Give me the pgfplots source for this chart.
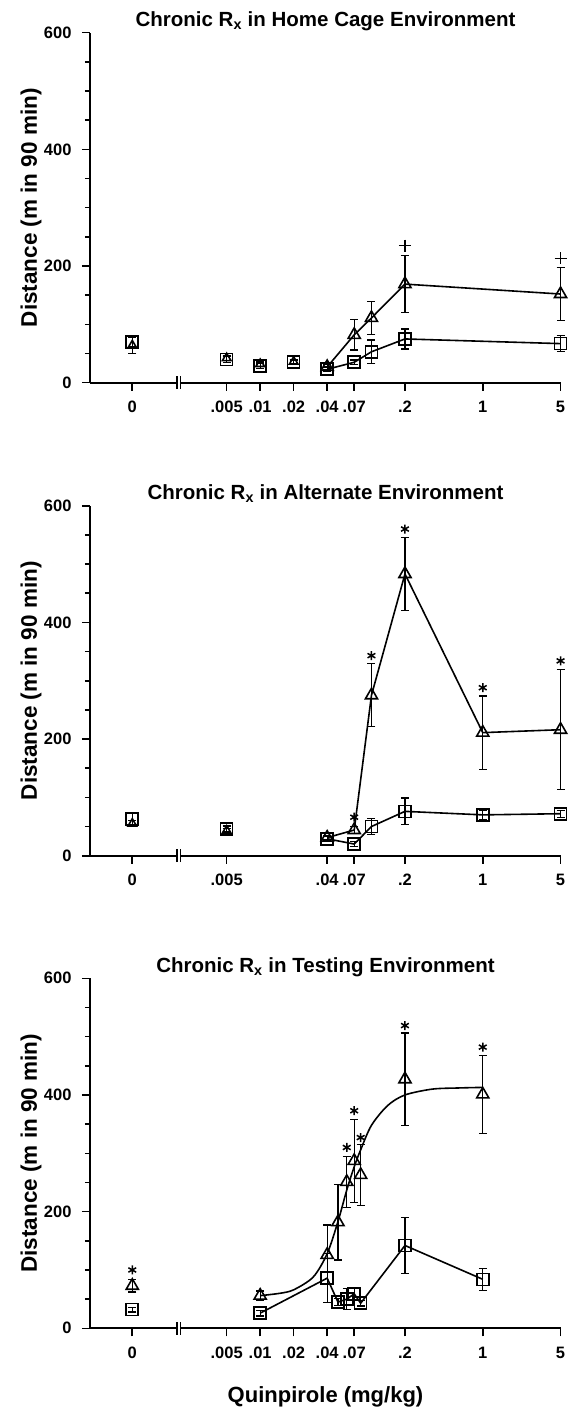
\documentclass[border=0pt]{standalone}
\usepackage{fontspec}
\setmainfont{Liberation Sans}
\usepackage{pgfplots}
\pgfplotsset{compat=1.18}

% x is log10(dose); zero dose sits at -3.149, left of the axis break at -2.730
\pgfplotsset{
  scale only axis, width=471pt, height=350pt,
  xmin=-3.529, xmax=0.703, ymin=0, ymax=600,
  axis lines=left, axis line style={-, line width=2.2pt},
  tick align=outside, major tick length=8pt, minor tick length=5pt,
  tick style={line width=1.6pt, black},
  ytick={0,200,400,600}, yticklabels={0,200,400,600}, minor y tick num=3,
  ticklabel style={font=\bfseries\fontsize{16.5}{18}\selectfont},
  yticklabel style={xshift=-7pt},
  xticklabel style={yshift=-7pt},
  clip=false,
  title style={at={(rel axis cs:0.5,1)}, yshift=0pt, anchor=base,
    font=\bfseries\fontsize{20.5}{22}\selectfont},
  ylabel style={at={(rel axis cs:0,0.5)}, yshift=53pt,
    anchor=base, font=\bfseries\fontsize{22.5}{24}\selectfont},
  xlabel style={at={(rel axis cs:0.5,0)}, yshift=-74.4pt,
    anchor=base, font=\bfseries\fontsize{22}{24}\selectfont},
}

\newcommand{\axisbreak}{%
  \fill[white] ([xshift=-1.6pt,yshift=-4pt]axis cs:-2.730,0) rectangle ([xshift=1.6pt,yshift=4pt]axis cs:-2.730,0);
  \draw[line width=1.3pt] ([xshift=-1.8pt,yshift=-6.5pt]axis cs:-2.730,0) -- ([xshift=-1.8pt,yshift=6.5pt]axis cs:-2.730,0);
  \draw[line width=1.3pt] ([xshift=1.8pt,yshift=-6.5pt]axis cs:-2.730,0) -- ([xshift=1.8pt,yshift=6.5pt]axis cs:-2.730,0);
}

\begin{document}
\begin{tikzpicture}
\useasboundingbox (-90pt,-1027.3pt) rectangle (483pt,382.7pt);

% ---- Home cage
\begin{axis}[at={(0pt,0pt)}, anchor=south west,
  title={Chronic R\textsubscript{x} in Home Cage Environment},
  ylabel={Distance (m in 90 min)},
  xtick={-3.149,-2.301,-2,-1.699,-1.398,-1.155,-0.699,0,0.699},
  xticklabels={0,.005,.01,.02,.04,.07,.2,1,5}]
\addplot[black, line width=1.6pt, only marks, mark=square, mark size=6pt, mark options={fill=white, solid},
  error bars/.cd, y dir=both, y explicit, error bar style={line width=1.3pt},
  error mark options={rotate=90, mark size=4pt, line width=1.3pt}] coordinates {(-3.149,70) +- (0,8) (-2.301,40) +- (0,5) (-2,29) +- (0,5) (-1.699,35) +- (0,4)};
\addplot[black, line width=1.6pt, mark=square, mark size=6pt, mark options={fill=white, solid},
  error bars/.cd, y dir=both, y explicit, error bar style={line width=1.3pt},
  error mark options={rotate=90, mark size=4pt, line width=1.3pt}] coordinates {(-1.398,23) +- (0,4) (-1.155,35) +- (0,4) (-1,53) +- (0,20) (-0.699,75) +- (0,17) (0.699,67) +- (0,14)};
\addplot[black, line width=1.6pt, only marks, mark=triangle, mark size=5pt, mark options={fill=white, solid},
  error bars/.cd, y dir=both, y explicit, error bar style={line width=1.3pt},
  error mark options={rotate=90, mark size=4pt, line width=1.3pt}] coordinates {(-3.149,64) +- (0,14) (-2.301,42) +- (0,4) (-2,32) +- (0,4) (-1.699,36) +- (0,3)};
\addplot[black, line width=1.6pt, mark=triangle, mark size=7pt, mark options={fill=white, solid},
  error bars/.cd, y dir=both, y explicit, error bar style={line width=1.3pt},
  error mark options={rotate=90, mark size=4pt, line width=1.3pt}] coordinates {(-1.398,27) +- (0,4) (-1.155,82) +- (0,26) (-1,111) +- (0,28) (-0.699,169) +- (0,49) (0.699,152) +- (0,45)};
\addplot[black, only marks, mark=+, mark size=6pt, line width=1.3pt] coordinates {(-0.699,235) (0.699,213)};
\axisbreak
\end{axis}

% ---- Alternate
\begin{axis}[at={(0pt,-473pt)}, anchor=south west,
  title={Chronic R\textsubscript{x} in Alternate Environment},
  ylabel={Distance (m in 90 min)},
  xtick={-3.149,-2.301,-1.398,-1.155,-0.699,0,0.699},
  xticklabels={0,.005,.04,.07,.2,1,5}]
\addplot[black, line width=1.6pt, only marks, mark=square, mark size=6pt, mark options={fill=white, solid},
  error bars/.cd, y dir=both, y explicit, error bar style={line width=1.3pt},
  error mark options={rotate=90, mark size=4pt, line width=1.3pt}] coordinates {(-3.149,63) +- (0,10) (-2.301,46) +- (0,5)};
\addplot[black, line width=1.6pt, mark=square, mark size=6pt, mark options={fill=white, solid},
  error bars/.cd, y dir=both, y explicit, error bar style={line width=1.3pt},
  error mark options={rotate=90, mark size=4pt, line width=1.3pt}] coordinates {(-1.398,29) +- (0,4) (-1.155,20) +- (0,4) (-1,50) +- (0,14) (-0.699,76) +- (0,23) (0,70) +- (0,8) (0.699,72) +- (0,6)};
\addplot[black, line width=1.6pt, only marks, mark=triangle, mark size=5pt, mark options={fill=white, solid},
  error bars/.cd, y dir=both, y explicit, error bar style={line width=1.3pt},
  error mark options={rotate=90, mark size=4pt, line width=1.3pt}] coordinates {(-3.149,55) +- (0,5) (-2.301,43) +- (0,4)};
\addplot[black, line width=1.6pt, mark=triangle, mark size=7pt, mark options={fill=white, solid},
  error bars/.cd, y dir=both, y explicit, error bar style={line width=1.3pt},
  error mark options={rotate=90, mark size=4pt, line width=1.3pt}] coordinates {(-1.398,31) +- (0,4) (-1.155,44) +- (0,6) (-1,275) +- (0,54) (-0.699,483) +- (0,63) (0,211) +- (0,63) (0.699,216) +- (0,103)};
\addplot[black, only marks, mark=asterisk, mark size=4.5pt, line width=1.5pt] coordinates {(-1.155,66) (-1,343) (-0.699,560) (0,288) (0.699,334)};
\axisbreak
\end{axis}

% ---- Testing
\begin{axis}[at={(0pt,-945.6pt)}, anchor=south west,
  title={Chronic R\textsubscript{x} in Testing Environment},
  ylabel={Distance (m in 90 min)},
  xlabel={Quinpirole (mg/kg)},
  xtick={-3.149,-2.301,-2,-1.699,-1.398,-1.155,-0.699,0,0.699},
  xticklabels={0,.005,.01,.02,.04,.07,.2,1,5}]
% fitted curve
\addplot[black, line width=1.6pt, smooth, no marks] coordinates {
  (-2,56) (-1.824,60) (-1.699,66) (-1.523,88) (-1.398,128) (-1.301,183) (-1.222,237)
  (-1.155,277) (-1.097,306) (-1,348) (-0.854,382) (-0.699,400) (-0.456,410) (-0.222,412) (0,413)};
\addplot[black, line width=1.6pt, only marks, mark=square, mark size=6pt, mark options={fill=white, solid},
  error bars/.cd, y dir=both, y explicit, error bar style={line width=1.3pt},
  error mark options={rotate=90, mark size=4pt, line width=1.3pt}] coordinates {(-3.149,32) +- (0,4)};
\addplot[black, line width=1.6pt, mark=square, mark size=6pt, mark options={fill=white, solid},
  error bars/.cd, y dir=both, y explicit, error bar style={line width=1.3pt},
  error mark options={rotate=90, mark size=4pt, line width=1.3pt}] coordinates {(-2,26) +- (0,5) (-1.398,86) +- (0,42) (-1.301,45) +- (0,6) (-1.222,50) +- (0,18) (-1.155,59) +- (0,10) (-1.097,43) +- (0,5) (-0.699,142) +- (0,48) (0,84) +- (0,19)};
\addplot[black, line width=1.6pt, only marks, mark=triangle, mark size=7pt, mark options={fill=white, solid},
  error bars/.cd, y dir=both, y explicit, error bar style={line width=1.3pt},
  error mark options={rotate=90, mark size=4pt, line width=1.3pt}] coordinates {(-3.149,73) +- (0,11) (-2,56) +- (0,8) (-1.398,126) +- (0,51) (-1.301,182) +- (0,65) (-1.222,251) +- (0,44) (-1.155,287) +- (0,71) (-1.097,263) +- (0,52) (-0.699,427) +- (0,79) (0,401) +- (0,67)};
\addplot[black, only marks, mark=asterisk, mark size=4.5pt, line width=1.5pt] coordinates {(-3.149,100) (-1.222,310) (-1.155,373) (-1.097,327) (-0.699,519) (0,482)};
\axisbreak
\end{axis}
\end{tikzpicture}
\end{document}
